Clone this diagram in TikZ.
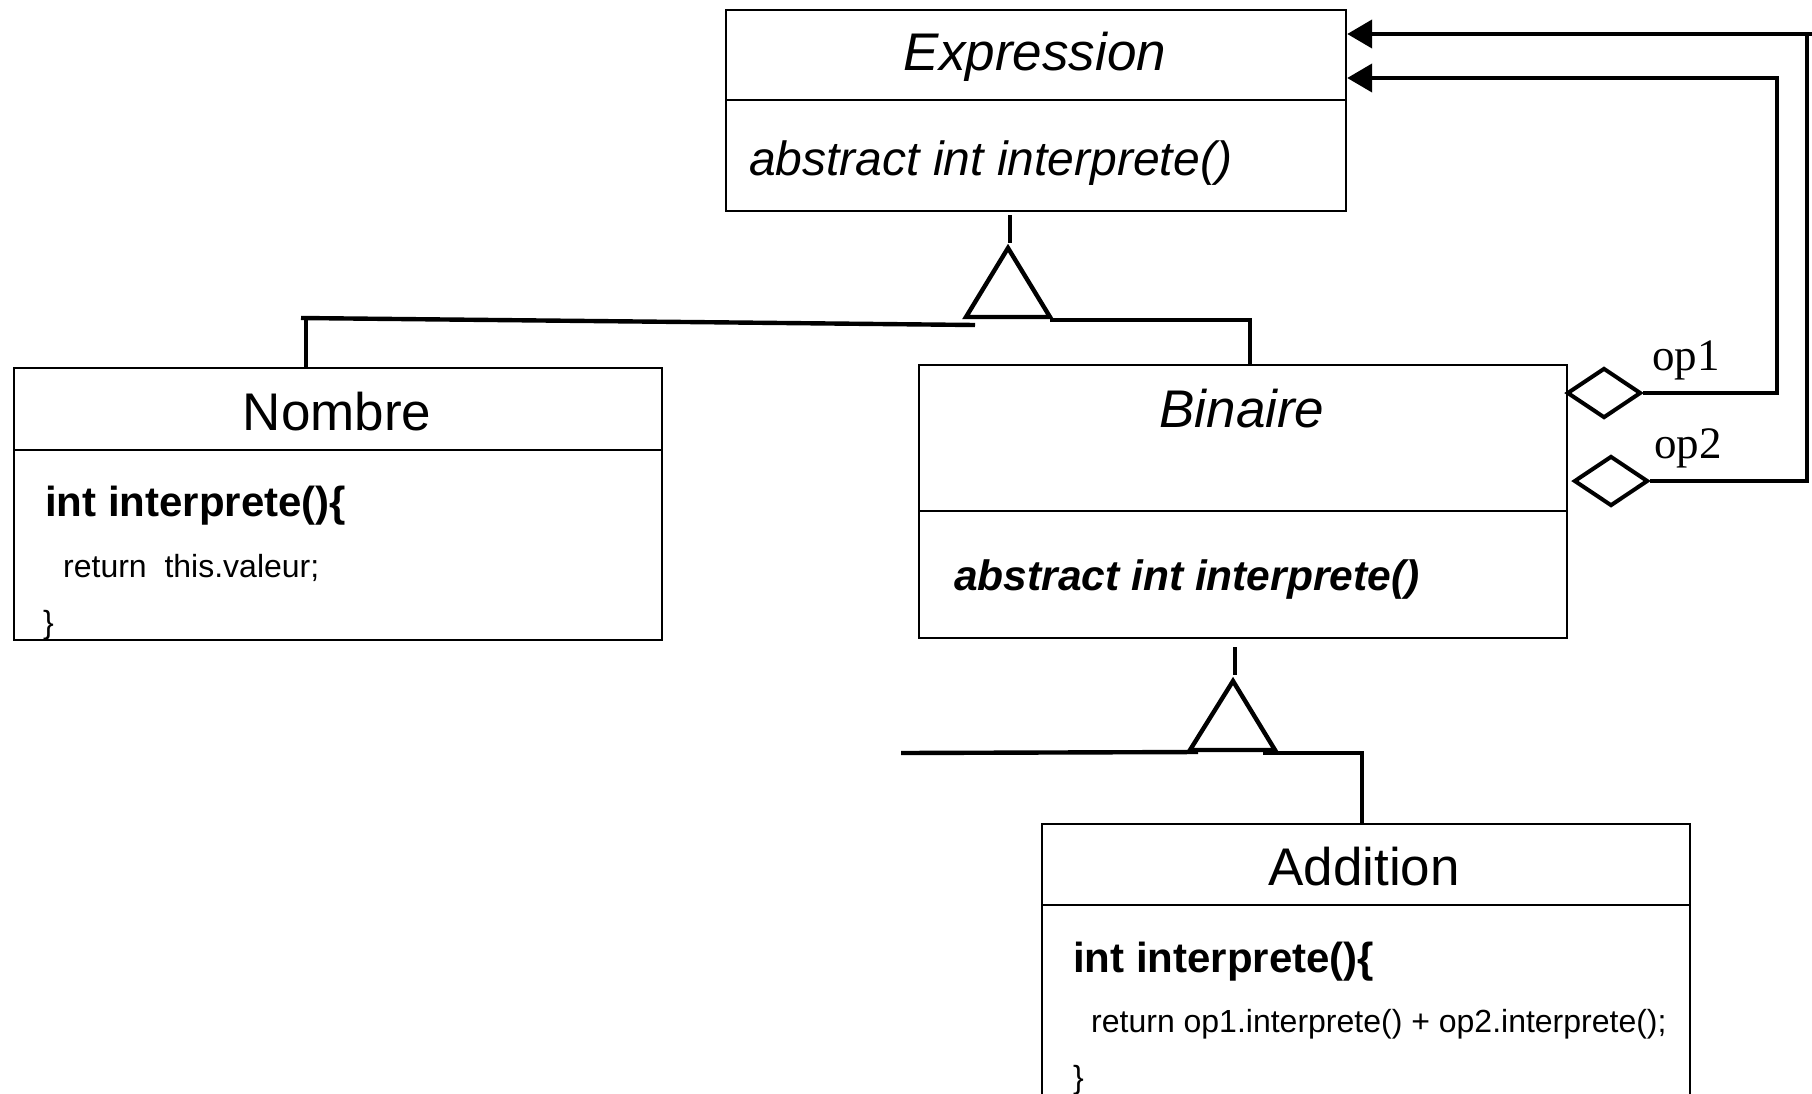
\documentclass[tikz,border=0pt]{standalone}
\usepackage{fontspec}
\setmainfont{Liberation Sans}
\newfontfamily\opfont{Liberation Serif}
\usetikzlibrary{arrows.meta,shapes.geometric}
\tikzset{
  classbox/.style={draw, line width=2.2pt, anchor=north west, inner sep=0pt},
  divider/.style={line width=2.2pt},
  titletext/.style={font=\fontsize{53}{60}\selectfont, inner sep=0pt, anchor=base},
  abstracttext/.style={font=\fontsize{48}{56}\selectfont\itshape, inner sep=0pt, anchor=base west},
  methodhead/.style={font=\fontsize{42}{50}\selectfont\bfseries, inner sep=0pt, anchor=base west},
  codetext/.style={font=\fontsize{32}{38}\selectfont, inner sep=0pt, anchor=base west},
  rolelabel/.style={font=\fontsize{45}{52}\selectfont\opfont, inner sep=0pt, anchor=base west},
  conn/.style={line width=4.4pt},
  inherit/.style={line width=4.4pt, line join=miter},
  aggr/.style={diamond, draw, line width=4pt, minimum width=74pt, minimum height=50pt, inner sep=0pt},
  assoc/.style={line width=4.4pt, line join=miter, -{Triangle[length=25pt,width=28pt]}}
}
\begin{document}
\begin{tikzpicture}[x=1pt,y=-1pt]
\useasboundingbox (0,0) rectangle (1812,1093);
\clip (0,0) rectangle (1812,1093);
\fill[white] (0,0) rectangle (1812,1093);

% class boxes
\node[classbox, minimum width=620pt, minimum height=201pt] (expr) at (725,9) {};
\draw[divider] (expr.north west) ++(0,91) -- ++(620,0);
\node[classbox, minimum width=648pt, minimum height=272pt] (nombre) at (13,367) {};
\draw[divider] (nombre.north west) ++(0,83) -- ++(648,0);
\node[classbox, minimum width=648pt, minimum height=273pt] (binaire) at (918,364) {};
\draw[divider] (binaire.north west) ++(0,147) -- ++(648,0);
\node[classbox, minimum width=648pt, minimum height=290pt] (addition) at (1041,823) {};
\draw[divider] (addition.north west) ++(0,82) -- ++(648,0);

% texts
\node[titletext, font=\fontsize{53}{60}\selectfont\itshape] (exprtitle) at (1035,70) {Expression};
\node[abstracttext] (exprmeth) at (749,175) {abstract int interprete()};

\node[titletext] (nombretitle) at (337,430) {Nombre};
\node[methodhead] (nombremeth) at (45,516) {int interprete()\{};
\node[codetext] (nombreret) at (63,577) {return~~this.valeur;};
\node[codetext] (nombreend) at (43,633) {\}};

\node[titletext, font=\fontsize{53}{60}\selectfont\itshape] (bintitle) at (1242,427) {Binaire};
\node[methodhead, font=\fontsize{42.5}{50}\selectfont\bfseries\itshape] (binmeth) at (954,590) {abstract int interprete()};

\node[titletext] (addtitle) at (1364,885) {Addition};
\node[methodhead] (addmeth) at (1073,972) {int interprete()\{};
\node[codetext] (addret) at (1091,1032) {return op1.interprete() + op2.interprete();};
\node[codetext] (addend) at (1073,1088) {\}};

% inheritance from Expression
\coordinate (t1top) at (1010,215);
\coordinate (t1bot) at (1010,243);
\draw[conn] (t1top) -- (t1bot);
\coordinate (g1apex) at (1008,248);
\coordinate (g1left) at (966,317);
\coordinate (g1right) at (1050,317);
\draw[inherit] (g1apex) -- (g1left) -- (g1right) -- cycle;
\coordinate (l1a) at (975,325);
\coordinate (l1b) at (301,318);
\draw[conn] (l1a) -- (l1b);
\coordinate (v1) at (306,318);
\draw[conn] (v1) -- (v1 |- nombre.north);
\coordinate (r1a) at (1050,320);
\coordinate (r1b) at (1250,320);
\draw[inherit] (r1a) -- (r1b) -- (r1b |- binaire.north);

% inheritance from Binaire
\coordinate (t2top) at (1235,647);
\coordinate (t2bot) at (1235,675);
\draw[conn] (t2top) -- (t2bot);
\coordinate (g2apex) at (1233,681);
\coordinate (g2left) at (1190,750);
\coordinate (g2right) at (1275,750);
\draw[inherit] (g2apex) -- (g2left) -- (g2right) -- cycle;
\coordinate (l2a) at (901,753);
\coordinate (l2b) at (1198,752);
\draw[conn] (l2a) -- (l2b);
\coordinate (r2a) at (1263,753);
\coordinate (r2b) at (1362,753);
\draw[inherit] (r2a) -- (r2b) -- (r2b |- addition.north);

% aggregations
\node[aggr] (d1) at (1604,393) {};
\node[aggr] (d2) at (1611,481) {};
\coordinate (c1) at (1777,78);
\coordinate (c2) at (1807,34);
\coordinate (c2end) at (1812,34);
\draw[assoc] (d1.east) -| (c1) -- (c1 -| expr.east);
\draw[assoc] (d2.east) -| (c2) -- (c2 -| expr.east);
\draw[conn] (c2) -- (c2end);

\node[rolelabel] (op1) at (1652,370) {op1};
\node[rolelabel] (op2) at (1654,458) {op2};
\end{tikzpicture}
\end{document}
